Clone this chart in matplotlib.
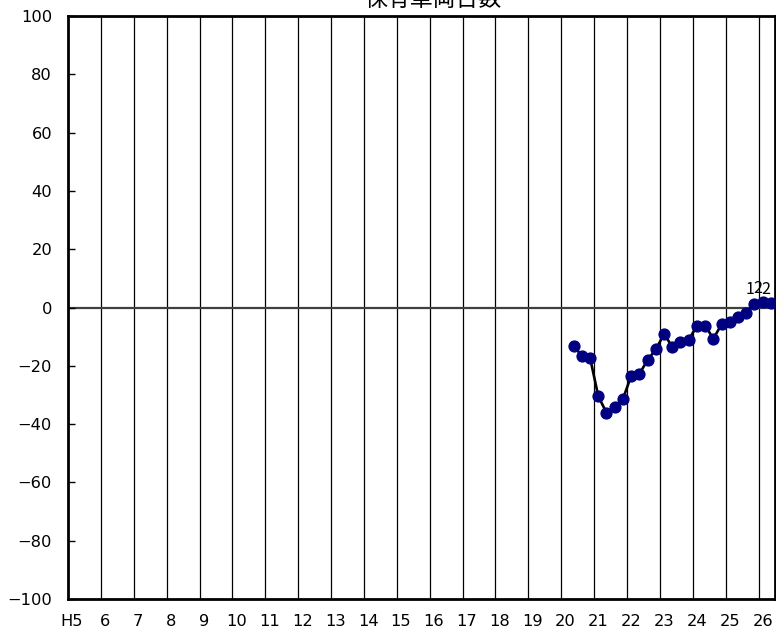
import matplotlib
matplotlib.use("Agg")
import matplotlib.pyplot as plt
import numpy as np

plt.rcParams['font.family'] = ['DejaVu Sans', 'Noto Sans CJK JP']

title = "保有車両台数"
year_labels = ["H5"] + [str(y) for y in range(6, 27)]
years = list(range(5, 27))
# quarterly index values, starting H20 Q2
start_pos = 20.375
values = [-13.1, -16.6, -17.2, -30.4, -36.1, -34.2, -31.4, -23.5, -22.8, -18.0,
          -14.4, -9.1, -13.4, -11.7, -11.1, -6.3, -6.2, -10.7, -5.8, -4.9,
          -3.4, -1.8, 1.2, 1.8, 1.4]
label_texts = ["1", "2", "2"]

xs = start_pos + 0.25 * np.arange(len(values))

W, H = 776, 641
fig = plt.figure(figsize=(W / 100, H / 100), dpi=100)
ax = fig.add_axes([68 / W, (H - 599) / H, (775 - 68) / W, (599 - 16) / H])

for y in years[1:]:
    ax.axvline(y, color='black', lw=0.9, zorder=1)
ax.axhline(0, color='#404040', lw=1.6, zorder=1)

ax.plot(xs, values, color='black', lw=1.9, marker='o', markersize=7.8,
        markerfacecolor='#000080', markeredgecolor='#000080', zorder=3, clip_on=False)

for x, v, t in zip(xs[-3:], values[-3:], label_texts):
    ax.annotate(t, (x, v), xytext=(-3.5, 4), textcoords='offset points',
                ha='center', va='bottom', fontsize=11.5, color='black', zorder=4,
                family=['Noto Sans CJK JP', 'DejaVu Sans'])

ax.set_xlim(5, 26.5)
ax.set_ylim(-100, 100)
ax.set_yticks(np.arange(-100, 101, 20))
ax.set_yticklabels([f"{v}".replace('-', '\u2212') for v in range(-100, 101, 20)], fontsize=11.7)
ax.tick_params(axis='y', direction='in', length=5, width=1, pad=11.5)
ax.set_xticks([y + 0.125 for y in years])
ax.set_xticklabels(year_labels, fontsize=11.7)
ax.tick_params(axis='x', length=0, pad=11)

for s in ax.spines.values():
    s.set_color('black')
    s.set_linewidth(2)

fig.text(433 / W, 1 - 6 / H, title, ha='center', va='baseline', fontsize=16.5,
         family=['Noto Sans CJK JP', 'DejaVu Sans'])

fig.savefig("out.png", dpi=100)
